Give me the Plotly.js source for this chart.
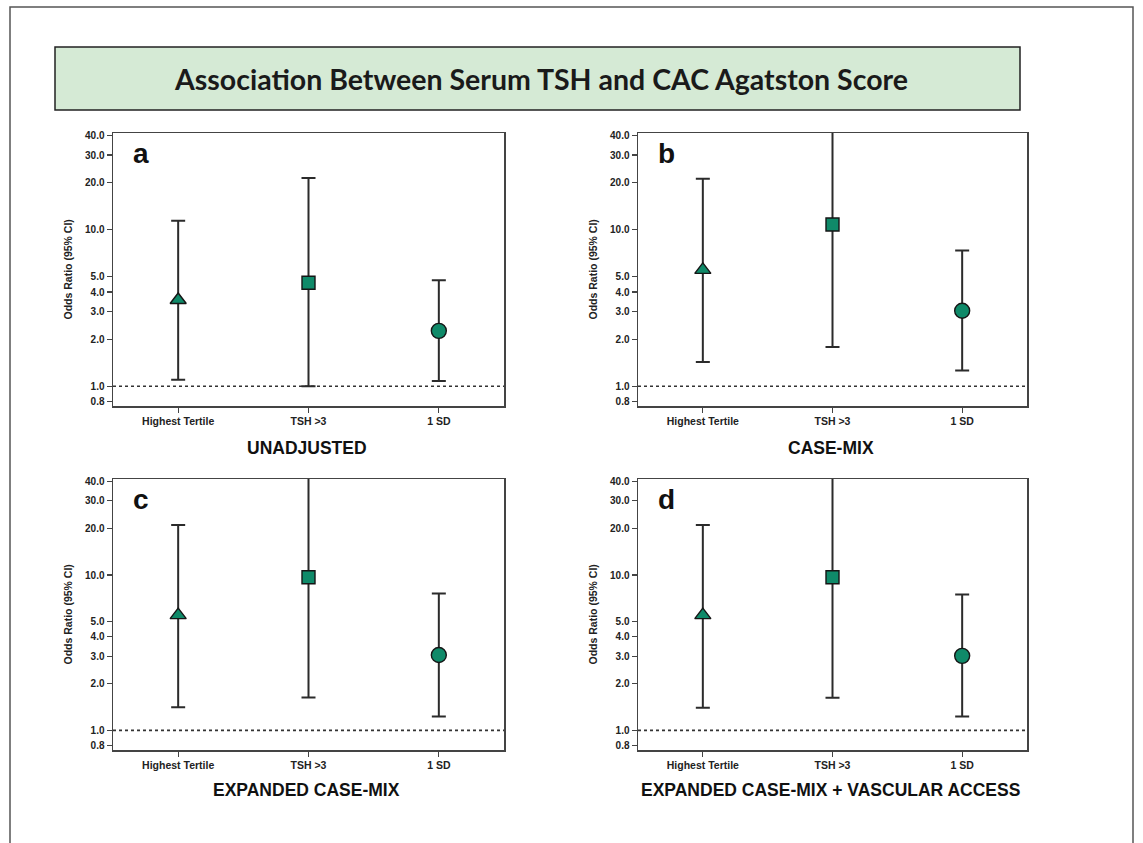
<!DOCTYPE html>
<html>
<head>
<meta charset="utf-8">
<script src="https://cdn.plot.ly/plotly-3.0.1.min.js"></script>
<style>
html,body{margin:0;padding:0;background:#fff;}
#chart{width:1143px;height:843px;}
</style>
</head>
<body>
<div id="chart"></div>
<script>
// ---- data ----
var categories = ["Highest Tertile", "TSH >3", "1 SD"];
var yTickVals = [0.8, 1, 2, 3, 4, 5, 10, 20, 30, 40];
var yTickText = ["0.8", "1.0", "2.0", "3.0", "4.0", "5.0", "10.0", "20.0", "30.0", "40.0"];
var panelLetters = ["a", "b", "c", "d"];
var panelNames = ["UNADJUSTED", "CASE-MIX", "EXPANDED CASE-MIX", "EXPANDED CASE-MIX + VASCULAR ACCESS"];

// odds ratios and 95% CI per panel: [Highest Tertile, TSH >3, 1 SD]
var orA = [3.56, 4.59, 2.26];
var loA = [1.10, 1.00, 1.08];
var hiA = [11.4, 21.4, 4.76];

var orB = [5.54, 10.8, 3.04];
var loB = [1.43, 1.78, 1.26];
var hiB = [21.2, 60.0, 7.37];

var orC = [5.52, 9.67, 3.06];
var loC = [1.41, 1.63, 1.23];
var hiC = [21.0, 60.0, 7.6];

var orD = [5.52, 9.67, 3.02];
var loD = [1.40, 1.62, 1.23];
var hiD = [21.0, 60.0, 7.5];

var panels = [
  {or: orA, lo: loA, hi: hiA},
  {or: orB, lo: loB, hi: hiB},
  {or: orC, lo: loC, hi: hiC},
  {or: orD, lo: loD, hi: hiD}
];

// ---- layout geometry (pixels) ----
var W = 1143, H = 843;
var boxes = [
  {l: 113, r: 504, t: 133, b: 406},
  {l: 638, r: 1027, t: 133, b: 406},
  {l: 113, r: 504, t: 479, b: 750},
  {l: 638, r: 1027, t: 479, b: 750}
];
function px(x){return x / W;}
function py(y){return 1 - y / H;}
function b(s){return "<b>" + s + "</b>";}

var symbols = ["triangle-up", "square", "circle"];
var sizes = [14, 13, 15];
var green = "#0f8a69";
var dark = "#2b2b2b";
var FF = "Liberation Sans, Arial, sans-serif";

var traces = [];
var layout = {
  width: W, height: H,
  margin: {l: 0, r: 0, t: 0, b: 0},
  paper_bgcolor: "#fff",
  plot_bgcolor: "#fff",
  showlegend: false,
  shapes: [],
  annotations: []
};

panels.forEach(function(p, i){
  var n = i + 1;
  var xa = "x" + (n === 1 ? "" : n);
  var ya = "y" + (n === 1 ? "" : n);
  var bx = boxes[i];
  var plus = [], minus = [];
  for (var k = 0; k < categories.length; k++) {
    plus.push(p.hi[k] - p.or[k]);
    minus.push(p.or[k] - p.lo[k]);
  }
  traces.push({
    type: "scatter",
    mode: "markers",
    x: [0, 1, 2],
    y: p.or,
    xaxis: xa, yaxis: ya,
    marker: {symbol: symbols, size: sizes, color: green, opacity: 1,
             line: {color: "#151515", width: 1.4}},
    error_y: {type: "data", symmetric: false, array: plus, arrayminus: minus,
              color: dark, thickness: 2, width: 7},
    hoverinfo: "x+y"
  });

  var xKey = "xaxis" + (n === 1 ? "" : n);
  var yKey = "yaxis" + (n === 1 ? "" : n);
  layout[xKey] = {
    domain: [px(bx.l), px(bx.r)],
    anchor: ya,
    range: [-0.5, 2.5],
    tickvals: [0, 1, 2],
    ticktext: categories.map(b),
    ticks: "outside", ticklen: 5, tickwidth: 1.2, tickcolor: "#444",
    showline: true, mirror: true, linecolor: "#444", linewidth: 1.5,
    showgrid: false, zeroline: false,
    tickfont: {family: FF, size: 10.5, color: "#222"},
    fixedrange: true
  };
  layout[yKey] = {
    domain: [py(bx.b), py(bx.t)],
    anchor: xa,
    type: "log",
    range: [-0.126, 1.618],
    tickvals: yTickVals,
    ticktext: yTickText.map(b),
    ticks: "outside", ticklen: 5, tickwidth: 1.2, tickcolor: "#444",
    showline: true, mirror: true, linecolor: "#444", linewidth: 1.5,
    showgrid: false, zeroline: false,
    tickfont: {family: FF, size: 10, color: "#222"},
    fixedrange: true
  };
  // reference line at OR = 1
  layout.shapes.push({
    type: "line", xref: xa + " domain", yref: ya,
    x0: 0, x1: 1, y0: 1, y1: 1,
    line: {color: "#333", width: 1.6, dash: "dot"},
    layer: "below"
  });
  // panel letter
  layout.annotations.push({
    xref: xa + " domain", yref: ya + " domain",
    x: 0.046, y: 0.925, xanchor: "left", yanchor: "middle",
    text: b(panelLetters[i]), showarrow: false,
    font: {family: FF, size: 28, color: "#111"}
  });
  // y-axis title
  layout.annotations.push({
    xref: "paper", yref: "paper",
    x: px(bx.l - 46), y: py((bx.t + bx.b) / 2), xanchor: "center", yanchor: "middle",
    text: b("Odds Ratio (95% CI)"), textangle: -90, showarrow: false,
    font: {family: FF, size: 10.5, color: "#222"}
  });
  // panel caption
  layout.annotations.push({
    xref: "paper", yref: "paper",
    x: px((bx.l + bx.r) / 2 - 2), y: py(bx.b + (i < 2 ? 42 : 40)), xanchor: "center", yanchor: "middle",
    text: b(panelNames[i]), showarrow: false,
    font: {family: FF, size: 17.5, color: "#111"}
  });
});

// outer frame (open at bottom)
layout.shapes.push({
  type: "path", xref: "paper", yref: "paper",
  path: "M " + px(10) + " 0 L " + px(10) + " " + py(7) + " L " + px(1133) + " " + py(7) + " L " + px(1133) + " 0",
  line: {color: "#555", width: 1.5}
});
// title box
layout.shapes.push({
  type: "rect", xref: "paper", yref: "paper",
  x0: px(55), x1: px(1020), y0: py(110), y1: py(47),
  fillcolor: "#d5ead5", line: {color: "#222", width: 1.5}, layer: "below"
});
layout.annotations.push({
  xref: "paper", yref: "paper",
  x: px(541), y: py(79), xanchor: "center", yanchor: "middle",
  text: b("Association Between Serum TSH and CAC Agatston Score"), showarrow: false,
  font: {family: "Lato, Open Sans, sans-serif", size: 28.5, color: "#1a1a1a"}
});

Plotly.newPlot("chart", traces, layout, {displayModeBar: false, staticPlot: true});
</script>
</body>
</html>
